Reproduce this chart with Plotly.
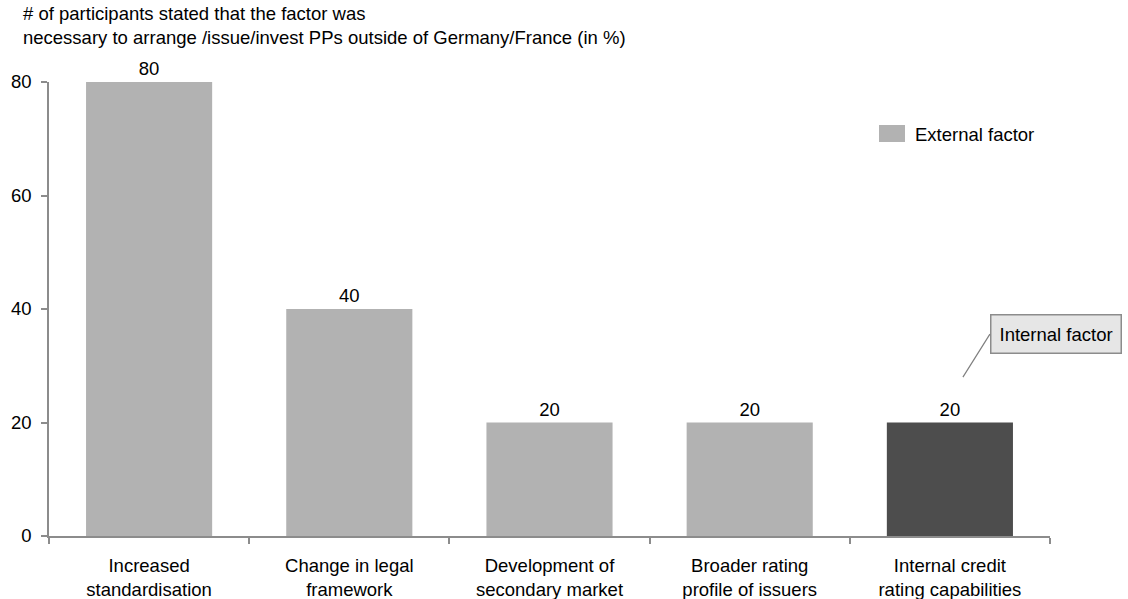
import plotly.graph_objects as go

categories = [
    "Increased<br>standardisation",
    "Change in legal<br>framework",
    "Development of<br>secondary market",
    "Broader rating<br>profile of issuers",
    "Internal credit<br>rating capabilities",
]
values = [80, 40, 20, 20, 20]
factor_type = ["External", "External", "External", "External", "Internal"]
y_ticks = [0, 20, 40, 60, 80]
title_lines = [
    "# of participants stated that the factor was",
    "necessary to arrange /issue/invest PPs outside of Germany/France (in %)",
]

EXT_COLOR = "#b2b2b2"
INT_COLOR = "#4d4d4d"
AXIS_COLOR = "#8c8c8c"
FONT = "Liberation Sans, Arial, sans-serif"
FS = 18.5

# plot area geometry in pixels
W, H = 1128, 599
L, R, T, B = 49, 78, 82, 63
PW, PH = W - L - R, H - T - B


def px_x(x):
    return (x - L) / PW


def px_y(y):
    return (H - B - y) / PH


ext_x = [c for c, t in zip(categories, factor_type) if t == "External"]
ext_y = [v for v, t in zip(values, factor_type) if t == "External"]
int_x = [c for c, t in zip(categories, factor_type) if t == "Internal"]
int_y = [v for v, t in zip(values, factor_type) if t == "Internal"]

fig = go.Figure()
fig.add_trace(go.Bar(
    x=ext_x, y=ext_y, name="External factor",
    marker=dict(color=EXT_COLOR, line=dict(width=0)),
    text=[str(v) for v in ext_y], textposition="outside",
    textfont=dict(size=FS, color="#000000"), cliponaxis=False,
    showlegend=False,
))
fig.add_trace(go.Bar(
    x=int_x, y=int_y, name="Internal factor",
    marker=dict(color=INT_COLOR, line=dict(width=0)),
    text=[str(v) for v in int_y], textposition="outside",
    textfont=dict(size=FS, color="#000000"), cliponaxis=False,
    showlegend=False,
))

# two-line heading above the plot
for line, yc in zip(title_lines, [13, 38]):
    fig.add_annotation(xref="paper", yref="paper", x=px_x(21), y=px_y(yc),
                       text=line, showarrow=False, xanchor="left",
                       yanchor="middle", font=dict(size=FS, color="#000000"))

# legend swatch for external factors
fig.add_shape(type="rect", xref="paper", yref="paper",
              x0=px_x(879), x1=px_x(905), y0=px_y(142), y1=px_y(125),
              fillcolor=EXT_COLOR, line=dict(width=0))
fig.add_annotation(xref="paper", yref="paper", x=px_x(913), y=px_y(134),
                   text="External factor", showarrow=False,
                   xanchor="left", yanchor="middle",
                   font=dict(size=FS, color="#000000"))

# callout for the internal factor bar, leader line meets the box's left edge
fig.add_annotation(x=4.065, y=28, xref="x", yref="y",
                   text="Internal factor", showarrow=True,
                   arrowhead=0, arrowwidth=1.2, arrowcolor="#808080",
                   ax=27, ay=-43, xanchor="left", yanchor="middle",
                   bgcolor="#e6e6e6", bordercolor="#8c8c8c", borderwidth=1.5,
                   borderpad=8, font=dict(size=FS, color="#000000"))

fig.update_layout(
    width=W, height=H,
    margin=dict(l=L, r=R, t=T, b=B),
    paper_bgcolor="#ffffff", plot_bgcolor="#ffffff",
    font=dict(family=FONT, size=FS, color="#000000"),
    bargap=0.37,
    xaxis=dict(
        type="category", categoryorder="array", categoryarray=categories,
        range=[-0.5, 4.5], showgrid=False, showline=True,
        linecolor=AXIS_COLOR, linewidth=1.5, automargin=False,
        ticks="outside", tickson="boundaries", ticklen=6,
        tickcolor=AXIS_COLOR, tickwidth=1.5, ticklabelstandoff=12,
        tickfont=dict(size=FS, color="#000000"),
    ),
    yaxis=dict(
        range=[0, 80], tickvals=y_ticks, showgrid=False, zeroline=False,
        showline=True, linecolor=AXIS_COLOR, linewidth=1.5, automargin=False,
        ticks="outside", ticklen=6, tickcolor=AXIS_COLOR, tickwidth=1.5,
        ticklabelstandoff=6,
        tickfont=dict(size=FS, color="#000000"),
    ),
)

fig.write_html("out.html")
